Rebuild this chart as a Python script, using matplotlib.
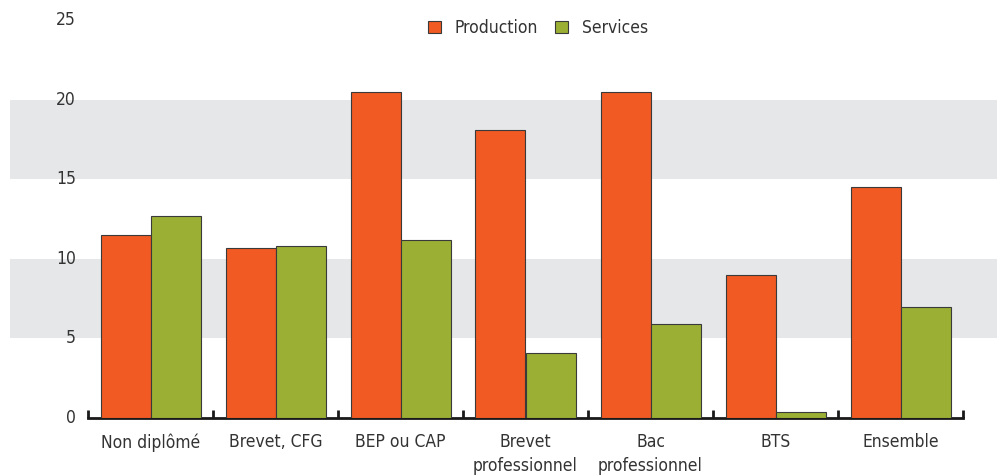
import matplotlib
matplotlib.use("Agg")
import matplotlib.pyplot as plt
import matplotlib.transforms as mtransforms
from matplotlib.patches import Patch
import numpy as np

plt.rcParams['font.family'] = ['DejaVu Sans']
plt.rcParams['font.stretch'] = 'condensed'

categories = ["Non diplômé", "Brevet, CFG", "BEP ou CAP", "Brevet\nprofessionnel",
              "Bac\nprofessionnel", "BTS", "Ensemble"]
production = [11.5, 10.7, 20.5, 18.1, 20.5, 9.0, 14.5]
services = [12.7, 10.8, 11.2, 4.1, 5.9, 0.4, 7.0]
series_names = ["Production", "Services"]
yticks = [0, 5, 10, 15, 20, 25]

c_prod = "#F15A22"
c_serv = "#9BAF34"
edge = "#3a3a3a"
txt = "#333333"
band = "#E6E7E8"
FS = 12.5

W, H = 997, 475
fig = plt.figure(figsize=(W / 100, H / 100), dpi=100)
ax = fig.add_axes([10 / W, (H - 418) / H, (W - 10) / W, (418 - 20) / H])

x = np.arange(len(categories))
bw = 0.4
ax.bar(x - bw / 2, production, width=bw, color=c_prod, edgecolor=edge, linewidth=0.8, zorder=3)
ax.bar(x + bw / 2, services, width=bw, color=c_serv, edgecolor=edge, linewidth=0.8, zorder=3)

ax.axhspan(5, 10, color=band, zorder=0, lw=0)
ax.axhspan(15, 20, color=band, zorder=0, lw=0)

left = -0.5 - 78 / 125
right = 6.5 + 34 / 125
ax.set_xlim(left, right)
ax.set_ylim(0, 25)

for s in ["top", "left", "right"]:
    ax.spines[s].set_visible(False)
ax.spines["bottom"].set_bounds(-0.5, 6.5)
ax.spines["bottom"].set_linewidth(2)
ax.spines["bottom"].set_color("#1a1a1a")

ax.set_yticks([])
ax.set_xticks(x)
ax.set_xticklabels(categories, fontsize=FS, color=txt, linespacing=1.4)
ax.tick_params(axis="x", which="major", length=0, pad=11)
ax.set_xticks(np.arange(-0.5, len(categories)), minor=True)
ax.tick_params(axis="x", which="minor", direction="in", length=6, width=2, color="#1a1a1a")

trans = mtransforms.blended_transform_factory(ax.transAxes, ax.transData)
for v in yticks:
    ax.text((76 - 10) / (W - 10), v, str(v), transform=trans, ha="right", va="center",
            fontsize=FS, color=txt)

handles = [Patch(facecolor=c_prod, edgecolor=edge, linewidth=0.8),
           Patch(facecolor=c_serv, edgecolor=edge, linewidth=0.8)]
fig.legend(handles, series_names, loc="center", bbox_to_anchor=(538 / W, 1 - 28 / H),
           ncol=2, frameon=False, fontsize=FS, handlelength=0.75, handleheight=0.75,
           handletextpad=0.8, columnspacing=1.0, labelcolor=txt)

fig.savefig("out.png", dpi=100)
